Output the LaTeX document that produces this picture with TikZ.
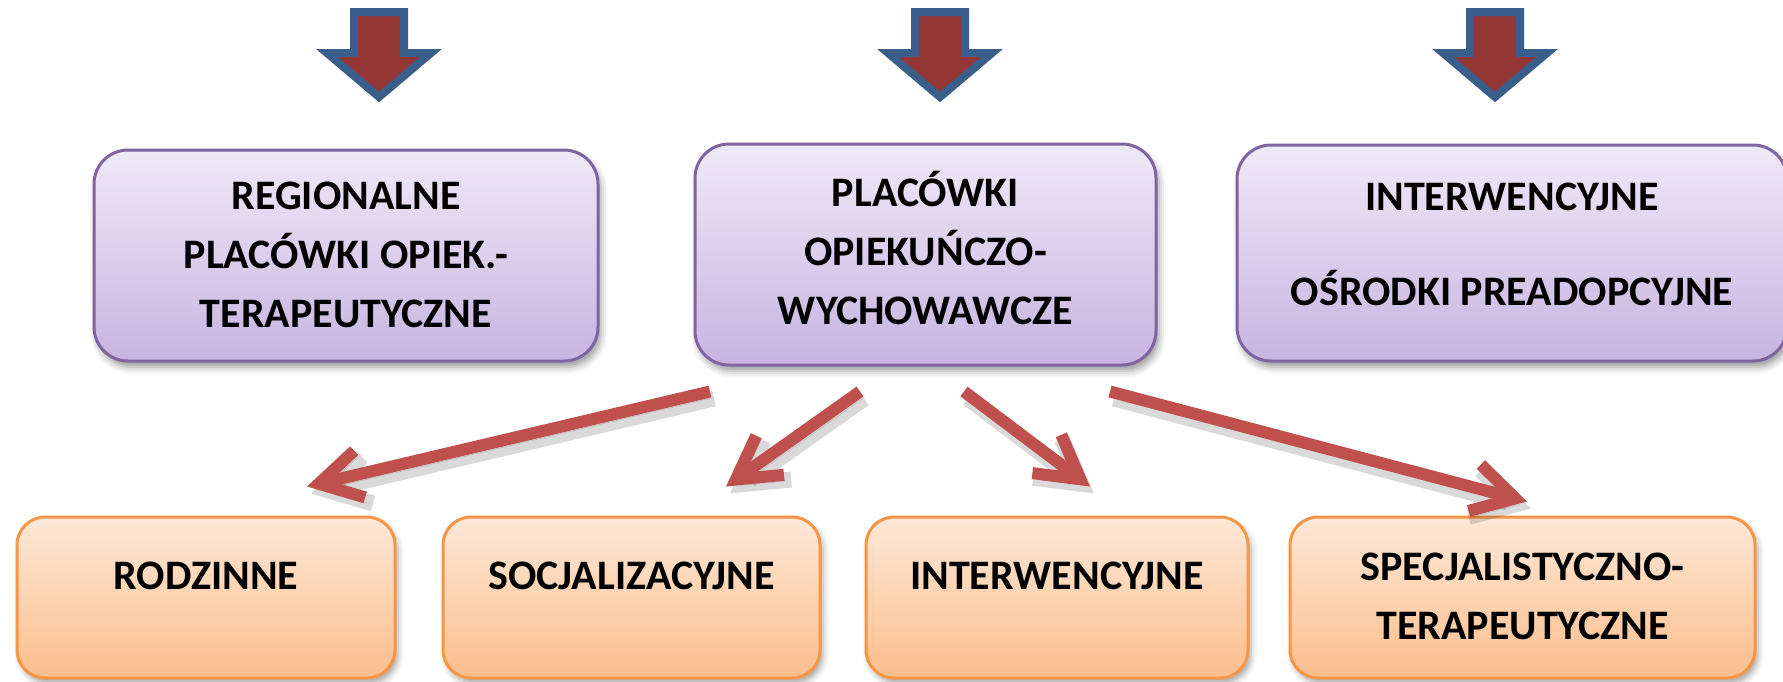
\documentclass[tikz,border=0pt]{standalone}
\usepackage{fontspec}
\setmainfont{Carlito}
\usetikzlibrary{arrows.meta,shadows.blur,calc}
\definecolor{purpbord}{HTML}{8064A2}
\definecolor{purptop}{HTML}{EFE9F7}
\definecolor{purpbot}{HTML}{C7B4E1}
\definecolor{orbord}{HTML}{F79646}
\definecolor{ortop}{HTML}{FEE8D7}
\definecolor{orbot}{HTML}{FBBE8C}
\definecolor{conred}{HTML}{C0504D}
\definecolor{arrred}{HTML}{953735}
\definecolor{arrblue}{HTML}{3A5E8C}
\begin{document}
\begin{tikzpicture}[x=1pt,y=-1pt,
  txt/.style={font=\fontsize{42}{59}\selectfont\bfseries, align=center, text=black},
  pbox/.style={txt, draw=purpbord, line width=3pt, rounded corners=34pt,
    top color=purptop, bottom color=purpbot, inner sep=0pt,
    blur shadow={shadow xshift=3pt, shadow yshift=-6pt, shadow blur radius=7pt, shadow opacity=40}},
  obox/.style={txt, draw=orbord, line width=3pt, rounded corners=28pt,
    top color=ortop, bottom color=orbot, inner sep=0pt, minimum height=161pt,
    blur shadow={shadow xshift=3pt, shadow yshift=-5pt, shadow blur radius=6pt, shadow opacity=35}},
  conn/.style={draw=conred, line width=12pt, -{Straight Barb[length=42pt,width=48pt]},
    preaction={draw=black, opacity=0.15, line width=16pt, transform canvas={xshift=4pt,yshift=-7pt}},
    preaction={draw=black, opacity=0.18, transform canvas={xshift=4pt,yshift=-6pt}}},
  bigarrow/.style={fill=arrred, draw=arrblue, line width=8pt, line join=miter}
]
\useasboundingbox (0,0) rectangle (1783,681);

% top block arrows
\foreach \cx in {379,940,1495}{
  \draw[bigarrow] (\cx-25,12) -- (\cx+25,12) -- (\cx+25,53) -- (\cx+52,53)
    -- (\cx,97) -- (\cx-52,53) -- (\cx-25,53) -- cycle;
}

% purple boxes
\node[pbox, minimum width=504pt, minimum height=211pt, text height=144.5pt, text depth=-4.5pt]
  (R) at (346,255.5) {REGIONALNE\\PLACÓWKI OPIEK.-\\TERAPEUTYCZNE};
\node[pbox, minimum width=461pt, minimum height=221pt, text height=144.5pt, text depth=5.5pt]
  (P) at (925.5,254.5) {PLACÓWKI\\OPIEKUŃCZO-\\WYCHOWAWCZE};
\node[pbox, minimum width=550pt, minimum height=216pt, text height=121.5pt, text depth=16pt]
  (I) at (1512,253) {INTERWENCYJNE\\[36pt]OŚRODKI PREADOPCYJNE};

% orange boxes
\node[obox, minimum width=378pt, text height=26.5pt, text depth=43pt] (B1) at (206,597.5) {RODZINNE};
\node[obox, minimum width=377pt, text height=26.5pt, text depth=43pt] (B2) at (631.5,597.5) {SOCJALIZACYJNE};
\node[obox, minimum width=382pt, text height=26.5pt, text depth=43pt] (B3) at (1057,597.5) {INTERWENCYJNE};
\node[obox, minimum width=465pt, text height=85.5pt, text depth=2.5pt] (B4) at (1522.5,597.5) {SPECJALISTYCZNO-\\TERAPEUTYCZNE};

% connector end points
\coordinate (s1) at ($(P.south)+(-215.5,25)$);
\coordinate (s2) at ($(P.south)+(-65.5,25)$);
\coordinate (s3) at ($(P.south)+(38.5,25)$);
\coordinate (s4) at ($(P.south)+(184.5,25)$);
\coordinate (t1) at ($(B1.north)+(101,-29)$);
\coordinate (t2) at ($(B2.north)+(94.5,-29)$);
\coordinate (t3) at ($(B3.north)+(33,-29)$);
\coordinate (t4) at ($(B4.north)+(4.5,-14)$);

\draw[conn] (s1) -- (t1);
\draw[conn] (s2) -- (t2);
\draw[conn] (s3) -- (t3);
\draw[conn] (s4) -- (t4);
\end{tikzpicture}
\end{document}
